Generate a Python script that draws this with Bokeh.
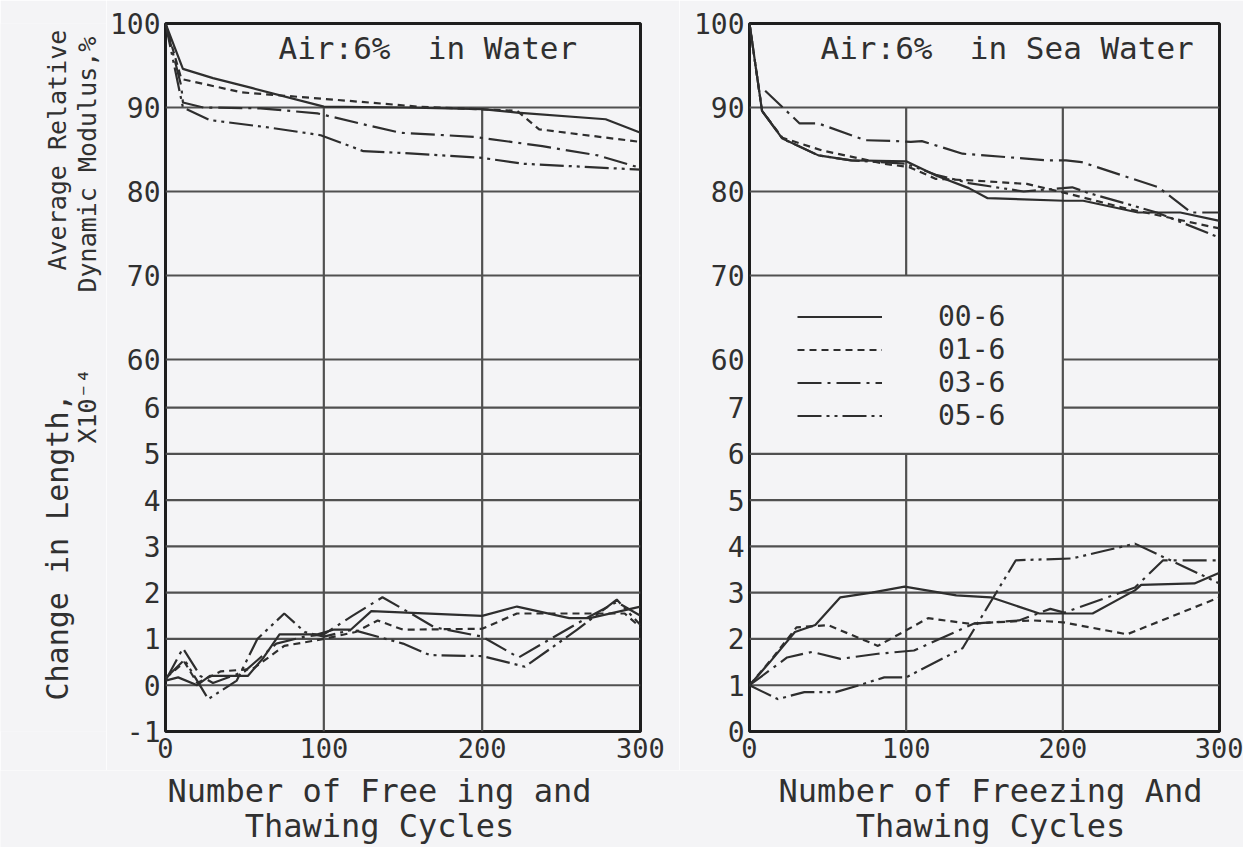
import math
from bokeh.plotting import figure
from bokeh.models import Range1d, FixedTicker, Label, Legend, LegendItem
from bokeh.layouts import row, column
from bokeh.embed import file_html
from bokeh.resources import INLINE

# ---------------- data ----------------
series = ["00-6", "01-6", "03-6", "05-6"]

# Relative dynamic modulus (%), specimens in fresh water
w_mod_x = {
    "00-6": [0, 11, 30, 55, 100, 150, 200, 222, 278, 300],
    "01-6": [0, 10, 48, 115, 160, 222, 236, 300],
    "03-6": [0, 10, 11, 24, 60, 96, 125, 148, 195, 238, 273, 300],
    "05-6": [0, 11, 28, 66, 98, 125, 148, 200, 226, 300],
}
w_mod_y = {
    "00-6": [100, 94.6, 93.5, 92.3, 90.1, 90.0, 89.8, 89.4, 88.6, 87.0],
    "01-6": [100, 93.4, 91.8, 90.8, 90.1, 89.6, 87.4, 85.9],
    "03-6": [100, 92.5, 90.6, 90.0, 89.9, 89.3, 88.0, 87.0, 86.5, 85.4, 84.3, 82.8],
    "05-6": [100, 90.0, 88.5, 87.6, 86.7, 84.8, 84.6, 84.0, 83.3, 82.6],
}

# Change in length (x10^-4), specimens in fresh water
w_len_x = {
    "00-6": [0, 8, 20, 28, 52, 62, 72, 96, 106, 117, 130, 200, 222, 255, 268, 300],
    "01-6": [0, 12, 20, 35, 55, 75, 100, 120, 134, 150, 200, 222, 260, 290, 300],
    "03-6": [0, 11, 22, 30, 50, 70, 88, 100, 118, 137, 155, 170, 200, 223, 266, 285, 300],
    "05-6": [0, 12, 27, 45, 58, 75, 88, 100, 118, 150, 167, 200, 227, 260, 285, 300],
}
w_len_y = {
    "00-6": [0.1, 0.17, 0.0, 0.2, 0.2, 0.6, 1.1, 1.1, 1.2, 1.2, 1.6, 1.5, 1.7, 1.45, 1.45, 1.7],
    "01-6": [0.15, 0.5, 0.05, 0.3, 0.35, 0.85, 1.0, 1.15, 1.4, 1.2, 1.22, 1.55, 1.55, 1.55, 1.25],
    "03-6": [0.1, 0.8, 0.2, 0.05, 0.3, 0.9, 1.05, 1.1, 1.5, 1.9, 1.55, 1.25, 1.05, 0.6, 1.45, 1.8, 1.5],
    "05-6": [0.15, 0.55, -0.3, 0.1, 1.0, 1.55, 1.15, 1.05, 1.2, 0.9, 0.65, 0.63, 0.4, 1.2, 1.85, 1.3],
}

# Relative dynamic modulus (%), specimens in sea water
s_mod_x = {
    "00-6": [0, 8, 21, 44, 65, 100, 119, 140, 152, 201, 213, 248, 275, 300],
    "01-6": [0, 8, 21, 46, 71, 86, 102, 119, 144, 177, 200, 240, 300],
    "03-6": [10, 32, 44, 74, 94, 103, 110, 136, 191, 202, 212, 261, 282, 300],
    "05-6": [0, 8, 21, 44, 65, 100, 119, 140, 175, 200, 206, 215, 260, 300],
}
s_mod_y = {
    "00-6": [100, 89.6, 86.3, 84.3, 83.7, 83.6, 81.9, 80.4, 79.2, 78.9, 78.9, 77.5, 77.5, 76.5],
    "01-6": [100, 89.6, 86.4, 84.9, 83.9, 83.3, 82.9, 81.5, 81.3, 80.9, 79.9, 78.0, 75.6],
    "03-6": [92.0, 88.1, 88.1, 86.1, 86.0, 85.9, 86.0, 84.5, 83.7, 83.7, 83.5, 80.5, 77.5, 77.5],
    "05-6": [100, 89.6, 86.3, 84.3, 83.7, 83.3, 82.0, 81.0, 80.0, 80.4, 80.5, 79.9, 77.5, 74.5],
}

# Change in length (x10^-4), specimens in sea water
s_len_x = {
    "00-6": [0, 13, 29, 42, 58, 78, 99, 132, 154, 185, 219, 246, 250, 284, 300],
    "01-6": [0, 15, 30, 50, 82, 114, 140, 181, 200, 241, 300],
    "03-6": [0, 24, 40, 58, 82, 105, 143, 172, 192, 201, 246, 264, 300],
    "05-6": [0, 18, 35, 55, 70, 86, 100, 136, 170, 206, 226, 246, 300],
}
s_len_y = {
    "00-6": [1.0, 1.5, 2.15, 2.3, 2.9, 3.0, 3.13, 2.94, 2.9, 2.55, 2.55, 3.05, 3.17, 3.2, 3.43],
    "01-6": [1.0, 1.6, 2.25, 2.3, 1.85, 2.45, 2.33, 2.4, 2.36, 2.1, 2.9],
    "03-6": [1.0, 1.6, 1.72, 1.57, 1.68, 1.75, 2.33, 2.4, 2.65, 2.57, 3.11, 3.7, 3.7],
    "05-6": [1.0, 0.7, 0.85, 0.85, 1.0, 1.17, 1.17, 1.8, 3.7, 3.74, 3.9, 4.06, 3.2],
}

x_ticks = [0, 100, 200, 300]
mod_ticks = [60, 70, 80, 90, 100]
w_len_ticks = [-1, 0, 1, 2, 3, 4, 5, 6]
s_len_ticks = [0, 1, 2, 3, 4, 5, 6, 7]

# ---------------- styling ----------------
FONT = "DejaVu Sans Mono"
INK = "#2e2e2e"
TXT = "#303030"
GRID = "#505050"
BG = "#f4f4f6"
NB = "\u00a0"
DASH = {"00-6": "solid", "01-6": "7 5", "03-6": "24 6 3 6", "05-6": "24 5 3 5 3 5"}

MOD_RANGE = (15.71, 100.0)
W_LEN_RANGE = (-1.0, 14.30)
S_LEN_RANGE = (0.0, 15.30)
PANEL_H = 770


def len_to_mod(v, lr):
    return round(MOD_RANGE[0] + (v - lr[0]) * (MOD_RANGE[1] - MOD_RANGE[0]) / (lr[1] - lr[0]), 6)


def blank(width, height):
    p = figure(width=width, height=height, x_range=Range1d(0, 1), y_range=Range1d(0, 1),
               x_axis_type=None, y_axis_type=None, output_backend="svg",
               toolbar_location=None, min_border=0, outline_line_color=None,
               background_fill_color=BG, border_fill_color=BG)
    p.grid.visible = False
    return p


def make_panel(width, b_left, b_right, len_range, len_ticks):
    p = figure(width=width, height=PANEL_H, x_range=Range1d(0, 300),
               y_range=Range1d(*MOD_RANGE), output_backend="svg",
               toolbar_location=None, min_border_left=b_left,
               min_border_right=b_right, min_border_top=23,
               min_border_bottom=39, background_fill_color=BG,
               border_fill_color=BG, outline_line_color="#1e1e1e",
               outline_line_width=3)
    p.extra_y_ranges = {"len": Range1d(*len_range)}
    p.grid.visible = False

    p.xaxis.ticker = FixedTicker(ticks=x_ticks)
    yt = list(mod_ticks) + [len_to_mod(v, len_range) for v in len_ticks]
    p.yaxis.ticker = FixedTicker(ticks=yt)
    p.yaxis.major_label_overrides = {len_to_mod(v, len_range): str(v) for v in len_ticks}
    for ax in (p.xaxis[0], p.yaxis[0]):
        ax.axis_line_color = None
        ax.major_tick_line_color = None
        ax.minor_tick_line_color = None
        ax.major_tick_out = 0
        ax.major_tick_in = 0
        ax.major_label_text_font = FONT
        ax.major_label_text_color = TXT
    p.xaxis.major_label_text_font_size = "27px"
    p.yaxis.major_label_text_font_size = "28px"
    p.xaxis.major_label_standoff = 6
    p.yaxis.major_label_standoff = 5
    return p


def grid_h(p, ys, x0, x1, len_axis=False):
    kw = {"y_range_name": "len"} if len_axis else {}
    p.segment(x0=[x0] * len(ys), x1=[x1] * len(ys), y0=ys, y1=ys,
              line_color=GRID, line_width=2.2, **kw)


def grid_v(p, xs, y0, y1, len_axis=False):
    kw = {"y_range_name": "len"} if len_axis else {}
    p.segment(x0=xs, x1=xs, y0=[y0] * len(xs), y1=[y1] * len(xs),
              line_color=GRID, line_width=2.2, **kw)


def curves(p, xs, ys, len_axis=False):
    kw = {"y_range_name": "len"} if len_axis else {}
    out = {}
    for s in series:
        out[s] = p.line(xs[s], ys[s], line_color=INK, line_width=2.2,
                        line_dash=DASH[s], **kw)
    return out


def text(p, s, x, y, size="30px", angle=0.0, align="left"):
    p.add_layout(Label(x=x, y=y, x_units="screen", y_units="screen", text=s,
                       text_font=FONT, text_font_size=size, text_color=TXT,
                       text_baseline="middle", text_align=align, angle=angle))


# ---------------- vertical axis title strip ----------------
# (its frame lines up with the panel frames: 23 px from the top, 731 px bottom)
p0 = blank(106, PANEL_H)
text(p0, "Change in Length,", 57, 31, "30px", angle=math.pi / 2)
text(p0, "Average Relative", 57, 461, "25px", angle=math.pi / 2)
text(p0, "X10\u207b\u2074", 87, 288, "25px", angle=math.pi / 2)
text(p0, "Dynamic Modulus,%", 87, 439, "25px", angle=math.pi / 2)

# ---------------- fresh water panel ----------------
p1 = make_panel(573, 59, 39, W_LEN_RANGE, w_len_ticks)
grid_h(p1, [90, 80, 70, 60], 0, 300)
grid_h(p1, [6, 5, 4, 3, 2, 1, 0], 0, 300, len_axis=True)
grid_v(p1, [100, 200], 90, MOD_RANGE[0])
curves(p1, w_mod_x, w_mod_y)
curves(p1, w_len_x, w_len_y, len_axis=True)
text(p1, "Air:6%" + NB + " in Water", 113, 684, "31px")

# ---------------- sea water panel ----------------
p2 = make_panel(564, 70, 24, S_LEN_RANGE, s_len_ticks)
grid_h(p2, [90, 80, 70], 0, 300)
grid_h(p2, [60], 200, 300)
grid_h(p2, [7], 200, 300, len_axis=True)
grid_h(p2, [6, 5, 4, 3, 2, 1], 0, 300, len_axis=True)
grid_v(p2, [100], 90, 70)
grid_v(p2, [100], 6, 0, len_axis=True)
grid_v(p2, [200], 90, MOD_RANGE[0])
curves(p2, s_mod_x, s_mod_y)
legend_src = curves(p2, s_len_x, s_len_y, len_axis=True)
text(p2, "Air:6%" + NB + " in Sea Water", 71, 684, "31px")

legend = Legend(items=[LegendItem(label=s, renderers=[legend_src[s]]) for s in series],
                location=(48, 299), orientation="vertical",
                glyph_width=85, glyph_height=31, label_height=31,
                label_standoff=56, spacing=0, padding=0, margin=0,
                border_line_color=None, background_fill_alpha=0,
                label_text_font=FONT, label_text_font_size="28px",
                label_text_color=TXT)
p2.add_layout(legend)

# ---------------- horizontal axis titles ----------------
pb = blank(1243, 847 - PANEL_H)
text(pb, "Number of Free ing and", 379, 57, "32px", align="center")
text(pb, "Thawing Cycles", 379, 22, "32px", align="center")
text(pb, "Number of Freezing And", 990, 57, "32px", align="center")
text(pb, "Thawing Cycles", 990, 22, "32px", align="center")

layout = column(row(p0, p1, p2), pb)
open("out.html", "w").write(file_html(layout, INLINE))
